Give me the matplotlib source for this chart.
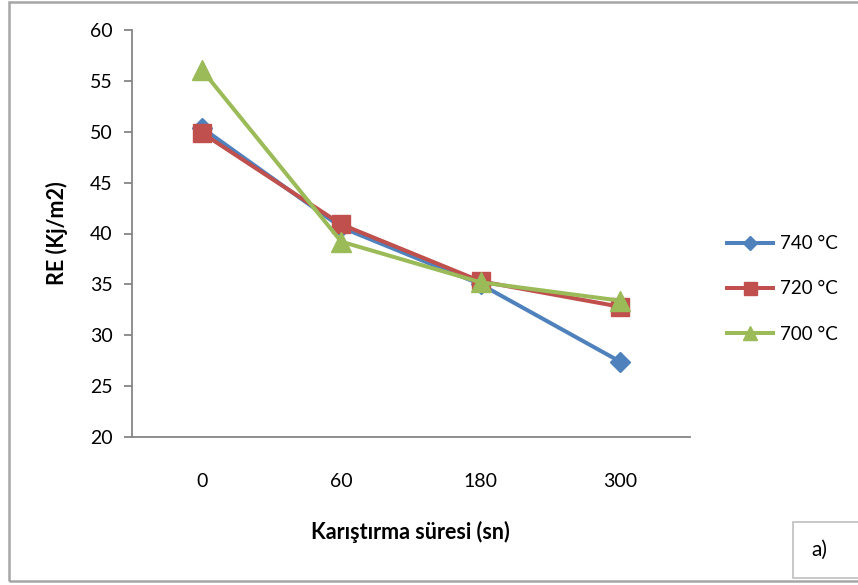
import matplotlib
matplotlib.use("Agg")
import matplotlib.pyplot as plt
from matplotlib.patches import Rectangle

# Data
durations = ["0", "60", "180", "300"]
re_740 = [50.4, 40.6, 35.0, 27.4]
re_720 = [49.9, 40.9, 35.3, 32.8]
re_700 = [56.1, 39.2, 35.2, 33.4]
series_labels = ["740 °C", "720 °C", "700 °C"]
y_ticks = [20, 25, 30, 35, 40, 45, 50, 55, 60]

plt.rcParams["font.family"] = ["Lato", "DejaVu Sans"]

W, H = 858, 585
fig = plt.figure(figsize=(W / 100, H / 100), dpi=100)
fig.patch.set_facecolor("white")

def fx(px):
    return px / W

def fy(py):
    return 1 - py / H

ax = fig.add_axes([fx(132), fy(437), fx(690) - fx(132), fy(30) - fy(437)])

x = list(range(len(durations)))
styles = [
    (re_740, "#4F81BD", "D", 10.5),
    (re_720, "#C0504D", "s", 13),
    (re_700, "#9BBB59", "^", 14),
]
for (vals, col, mk, ms), lab in zip(styles, series_labels):
    ax.plot(x, vals, color=col, lw=2.9, marker=mk, ms=ms, mfc=col, mec=col,
            label=lab, solid_joinstyle="round")

ax.set_xlim(-0.5, len(durations) - 0.5)
ax.set_ylim(20, 60)
ax.set_yticks(y_ticks)
ax.set_xticks(x)
ax.set_xticklabels(durations)

for s in ["top", "right"]:
    ax.spines[s].set_visible(False)
for s in ["left", "bottom"]:
    ax.spines[s].set_color("#868686")
    ax.spines[s].set_linewidth(1.3)
ax.tick_params(axis="y", length=6, width=1.3, color="#868686", labelsize=14, pad=8)
ax.tick_params(axis="x", length=0, labelsize=14, pad=26)

fig.text(fx(57), fy(233), "RE (Kj/m2)", rotation=90, ha="center", va="center",
         fontsize=15.5, fontweight="bold")
fig.text(fx(410), fy(532), "Karıştırma süresi (sn)", ha="center", va="center",
         fontsize=15.5, fontweight="bold")

ax.legend(loc="center left", bbox_to_anchor=(fx(727), fy(289)),
          bbox_transform=fig.transFigure, frameon=False, fontsize=13.5,
          handlelength=2.45, handletextpad=0.35, labelspacing=1.5,
          borderpad=0, borderaxespad=0, markerscale=0.72)

# Chart area border
fig.patches.append(Rectangle((fx(9), fy(581)), 1.2, fy(2) - fy(581),
                             transform=fig.transFigure, fill=False,
                             edgecolor="#A6A6A6", lw=1.8))
# Panel tag box
fig.patches.append(Rectangle((fx(793), fy(578)), 0.2, fy(522) - fy(578),
                             transform=fig.transFigure, facecolor="white",
                             edgecolor="#BFBFBF", lw=1.2))
fig.text(fx(819), fy(550), "a)", ha="center", va="center", fontsize=15)

fig.savefig("out.png", dpi=100, facecolor="white")
